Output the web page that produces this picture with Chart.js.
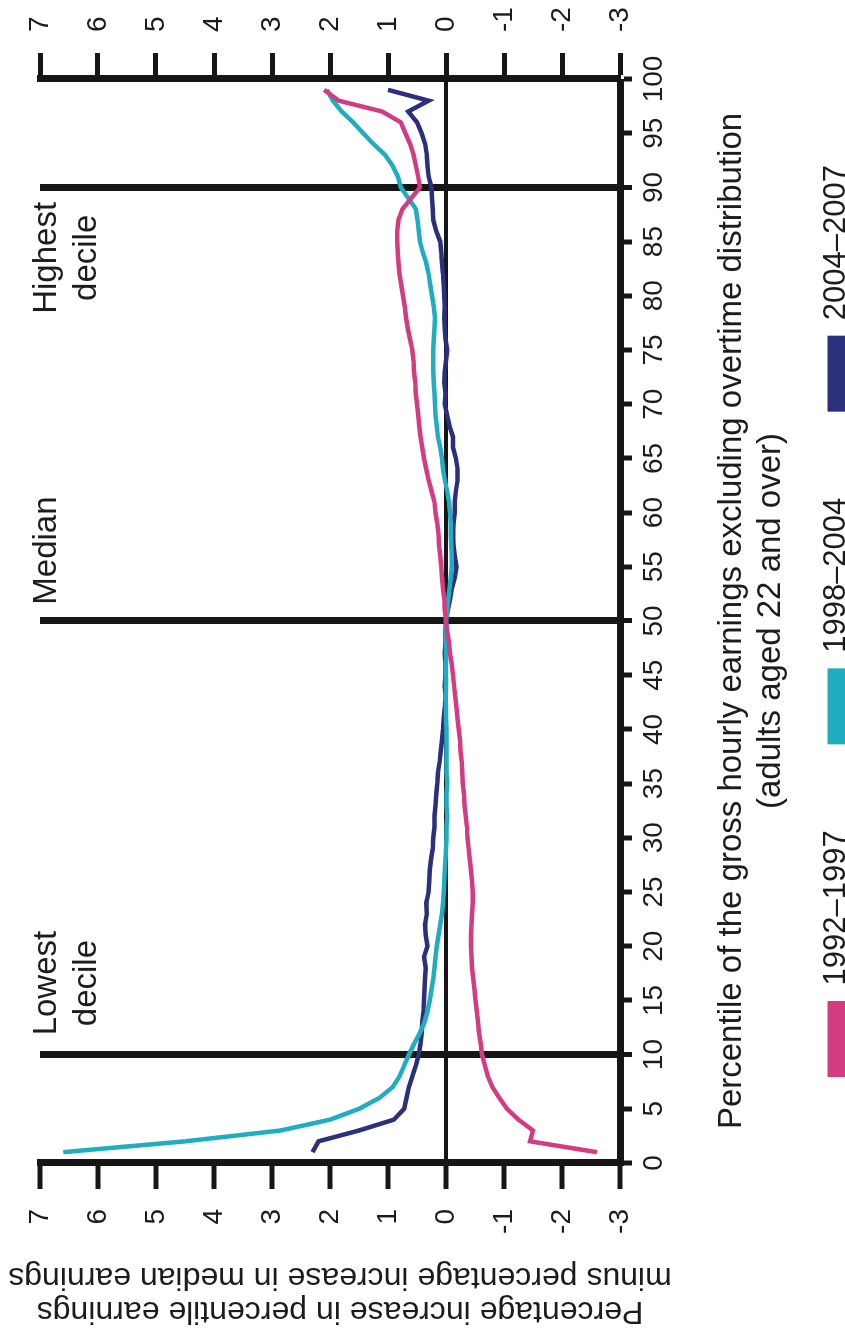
<!DOCTYPE html>
<html>
<head>
<meta charset="utf-8">
<script src="https://cdn.jsdelivr.net/npm/chart.js@4.4.1/dist/chart.umd.min.js"></script>
<style>
html,body{margin:0;padding:0;background:#fff;overflow:hidden;width:845px;height:1339px;}
#wrap{position:absolute;left:0;top:0;width:1339px;height:862px;transform-origin:0 0;transform:translate(0,1339px) rotate(-90deg);}
canvas{display:block;}
</style>
</head>
<body>
<div id="wrap"><canvas id="c" width="1339" height="862"></canvas></div>
<script>
// ---------- data ----------
const PERCENTILES = [1,2,3,4,5,6,7,8,9,10,11,12,13,14,15,16,17,18,19,20,21,22,23,24,25,26,27,28,29,30,31,32,33,34,35,36,37,38,39,40,41,42,43,44,45,46,47,48,49,50,51,52,53,54,55,56,57,58,59,60,61,62,63,64,65,66,67,68,69,70,71,72,73,74,75,76,77,78,79,80,81,82,83,84,85,86,87,88,89,90,91,92,93,94,95,96,97,98,99];

const SERIES_1992_1997 = [-2.6,-1.45,-1.5,-1.25,-1.05,-0.92,-0.8,-0.72,-0.67,-0.62,-0.6,-0.57,-0.55,-0.53,-0.51,-0.49,-0.47,-0.45,-0.44,-0.43,-0.43,-0.44,-0.45,-0.46,-0.46,-0.45,-0.43,-0.41,-0.39,-0.37,-0.36,-0.34,-0.32,-0.31,-0.29,-0.28,-0.27,-0.25,-0.24,-0.22,-0.2,-0.18,-0.16,-0.14,-0.12,-0.1,-0.07,-0.05,-0.02,0,0.02,0.03,0.05,0.07,0.08,0.1,0.12,0.13,0.15,0.18,0.2,0.25,0.3,0.34,0.38,0.41,0.44,0.46,0.48,0.5,0.52,0.53,0.55,0.56,0.58,0.62,0.66,0.69,0.71,0.74,0.77,0.8,0.82,0.83,0.84,0.84,0.82,0.75,0.6,0.45,0.48,0.52,0.56,0.62,0.7,0.78,1.1,1.85,2.1];

const SERIES_1998_2004 = [6.6,4.5,2.85,2.0,1.5,1.15,0.92,0.8,0.72,0.64,0.55,0.45,0.37,0.32,0.28,0.25,0.22,0.2,0.18,0.16,0.13,0.1,0.07,0.05,0.04,0.03,0.02,0.01,0,-0.01,-0.01,-0.02,-0.01,-0.01,-0.02,-0.01,-0.01,-0.01,-0.01,-0.01,0,0,0.01,0,0,0,0,0,0,0,-0.02,-0.04,-0.06,-0.08,-0.1,-0.1,-0.09,-0.08,-0.08,-0.07,-0.05,-0.02,0.02,0.05,0.07,0.1,0.14,0.16,0.18,0.19,0.2,0.21,0.22,0.22,0.22,0.21,0.2,0.19,0.21,0.24,0.27,0.3,0.34,0.4,0.45,0.47,0.49,0.52,0.65,0.78,0.83,0.92,1.05,1.25,1.43,1.6,1.8,1.95,2.05];

const SERIES_2004_2007 = [2.3,2.2,1.5,0.9,0.72,0.68,0.64,0.58,0.52,0.47,0.44,0.42,0.41,0.39,0.38,0.37,0.36,0.35,0.38,0.32,0.35,0.36,0.33,0.34,0.3,0.29,0.28,0.26,0.23,0.22,0.2,0.2,0.18,0.17,0.15,0.14,0.11,0.09,0.07,0.05,0.04,0.02,0.01,0.02,0.01,0.01,0.02,0.01,0.01,0,-0.03,-0.07,-0.1,-0.15,-0.18,-0.15,-0.13,-0.12,-0.13,-0.15,-0.15,-0.17,-0.2,-0.2,-0.17,-0.12,-0.12,-0.06,-0.02,0.02,0.01,0.03,0.02,0,-0.02,0.01,0.02,0.03,0.02,0.03,0.04,0.05,0.07,0.08,0.1,0.17,0.22,0.23,0.24,0.25,0.3,0.32,0.33,0.36,0.42,0.5,0.65,0.3,1.0];

const LEGEND_LABELS = ['1992\u20131997','1998\u20132004','2004\u20132007'];
const SERIES_COLORS = ['#d43c82','#1fadbf','#2b2f7c'];
const DECILE_LINES = [10, 50, 90];
const ANNOTATIONS = [
  {lines:['Lowest','decile'], at:16.6},
  {lines:['Median'], at:56.5},
  {lines:['Highest','decile'], at:83.5}
];
const X_TITLE = ['Percentile of the gross hourly earnings excluding overtime distribution','(adults aged 22 and over)'];
const Y_TITLE = ['Percentage increase in percentile earnings','minus percentage increase in median earnings'];
const VALUE_MIN = -3, VALUE_MAX = 7;

// ---------- chart ----------
const FONT = "'Liberation Sans', Arial, Helvetica, sans-serif";
const INK = '#1c1c1c';
const LINE = '#161616';
Chart.defaults.font.family = FONT;
Chart.defaults.color = INK;

const series = [SERIES_1992_1997, SERIES_1998_2004, SERIES_2004_2007];
const datasets = series.map((vals, i) => ({
  label: LEGEND_LABELS[i],
  data: PERCENTILES.map((p, j) => ({x: p, y: vals[j]})),
  borderColor: SERIES_COLORS[i],
  backgroundColor: SERIES_COLORS[i],
  borderWidth: 4.5,
  pointRadius: 0,
  tension: 0,
  fill: false
}));

const notesPlugin = {
  id: 'notes',
  afterDraw(chart) {
    const {ctx, chartArea, scales} = chart;
    ctx.save();
    ctx.fillStyle = INK;
    ctx.textAlign = 'center';
    ctx.textBaseline = 'middle';
    ctx.font = '33px ' + FONT;
    ANNOTATIONS.forEach(a => {
      const px = scales.x.getPixelForValue(a.at);
      a.lines.forEach((t, j) => ctx.fillText(t, px, chartArea.top + 7 + j * 40));
    });
    ctx.font = '32px ' + FONT;
    const cy = (chartArea.top + chartArea.bottom) / 2 + 10;
    Y_TITLE.forEach((t, j) => {
      ctx.save();
      ctx.translate(28 + j * 34, cy);
      ctx.rotate(-Math.PI / 2);
      ctx.fillText(t, 0, 0);
      ctx.restore();
    });
    ctx.restore();
  }
};

const valueTicks = {stepSize: 1, padding: 20, font: {size: 28}, color: INK};

new Chart(document.getElementById('c'), {
  type: 'line',
  data: {datasets},
  plugins: [notesPlugin],
  options: {
    responsive: false,
    animation: false,
    devicePixelRatio: 1,
    layout: {padding: {top: 40, left: 0, right: 0, bottom: 0}},
    plugins: {
      tooltip: {enabled: false},
      legend: {
        display: true,
        position: 'bottom',
        fullSize: false,
        align: 'center',
        labels: {
          boxWidth: 76,
          boxHeight: 18,
          padding: 86,
          font: {size: 31},
          color: INK,
          generateLabels: chart => chart.data.datasets.map((ds, i) => ({
            text: ds.label, fillStyle: ds.borderColor, strokeStyle: ds.borderColor,
            lineWidth: 0, hidden: false, datasetIndex: i, fontColor: INK
          }))
        }
      }
    },
    scales: {
      x: {
        type: 'linear', position: 'bottom', min: 0, max: 100,
        afterFit: s => { s.height = 115; },
        ticks: {stepSize: 5, autoSkip: false, maxRotation: 0, minRotation: 0, padding: 5, font: {size: 28}, color: INK},
        grid: {
          drawOnChartArea: true, drawTicks: true, tickLength: 12, tickWidth: 5, tickColor: LINE,
          color: c => (c.tick && DECILE_LINES.includes(c.tick.value)) ? LINE : 'rgba(0,0,0,0)',
          lineWidth: c => (c.tick && DECILE_LINES.includes(c.tick.value)) ? 7 : 0
        },
        border: {display: true, color: LINE, width: 7},
        title: {display: true, text: X_TITLE, color: INK, font: {size: 33, lineHeight: 39/33}, padding: {top: 0, bottom: -55}}
      },
      y: {
        type: 'linear', position: 'left', min: VALUE_MIN, max: VALUE_MAX,
        afterFit: s => { s.width = 176; },
        ticks: valueTicks,
        grid: {
          drawOnChartArea: true, drawTicks: true, tickLength: 26, tickWidth: 5, tickColor: LINE,
          color: c => (c.tick && c.tick.value === 0) ? LINE : 'rgba(0,0,0,0)',
          lineWidth: c => (c.tick && c.tick.value === 0) ? 4 : 0
        },
        border: {display: true, color: LINE, width: 7}
      },
      y2: {
        type: 'linear', position: 'right', min: VALUE_MIN, max: VALUE_MAX,
        afterFit: s => { s.width = 79; },
        ticks: {stepSize: 1, padding: 21, font: {size: 28}, color: INK},
        grid: {drawOnChartArea: false, drawTicks: true, tickLength: 26, tickWidth: 5, tickColor: LINE},
        border: {display: true, color: LINE, width: 7}
      }
    }
  }
});
</script>
</body>
</html>
